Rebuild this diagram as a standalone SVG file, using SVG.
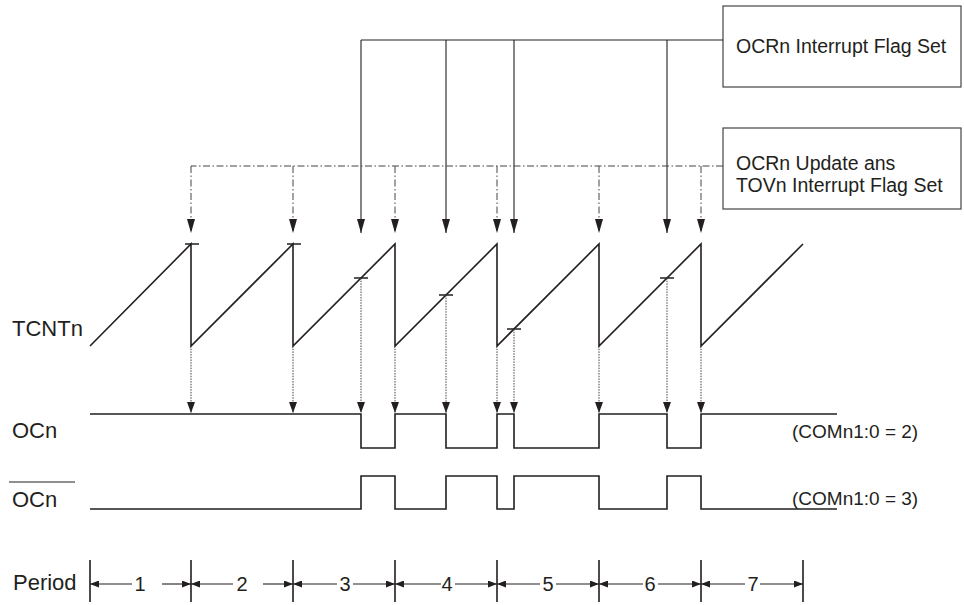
<svg xmlns="http://www.w3.org/2000/svg" width="964" height="605" viewBox="0 0 964 605">
<style>
text{font-family:"Liberation Sans",Arial,sans-serif;fill:#231f20}
.lbl{font-size:22px}
.box{font-size:19.5px}
.num{font-size:20px;text-anchor:middle}
.com{font-size:19px}
.wave{fill:none;stroke:#231f20;stroke-width:1.6;stroke-linejoin:miter}
.solid{fill:none;stroke:#231f20;stroke-width:1.1}
.dashdot{fill:none;stroke:#444;stroke-width:1;stroke-dasharray:7 2.5 1.5 2.5}
.dotted{fill:none;stroke:#444;stroke-width:1;stroke-dasharray:1.5 1.2}
.tick{fill:none;stroke:#231f20;stroke-width:1.6}
.boxr{fill:#fff;stroke:#444;stroke-width:1.2}
.per{fill:none;stroke:#231f20;stroke-width:1.1}
</style>
<defs>
<marker id="big" viewBox="0 0 14 8" markerWidth="14" markerHeight="8" refX="14" refY="4" orient="auto" markerUnits="userSpaceOnUse"><path d="M0,0 L14,4 L0,8 z" fill="#231f20"/></marker>
<marker id="sm" viewBox="0 0 11 8" markerWidth="11" markerHeight="8" refX="11" refY="4" orient="auto" markerUnits="userSpaceOnUse"><path d="M0,0 L11,4 L0,8 z" fill="#231f20"/></marker>
<marker id="pa" viewBox="0 0 9 7" markerWidth="9" markerHeight="7" refX="9" refY="3.5" orient="auto" markerUnits="userSpaceOnUse"><path d="M0,0 L9,3.5 L0,7 z" fill="#231f20"/></marker>
</defs>

<g id="box-ocr-flag">
<rect class="boxr" x="723" y="6" width="238" height="81"/>
<text class="box" x="736" y="53">OCRn Interrupt Flag Set</text>
</g>
<g id="box-tov-flag">
<rect class="boxr" x="723" y="128" width="238" height="81"/>
<text class="box" x="736" y="170">OCRn Update ans</text>
<text class="box" x="736" y="192">TOVn Interrupt Flag Set</text>
</g>

<g id="labels">
<text class="lbl" x="12" y="336">TCNTn</text>
<text class="lbl" x="12" y="438">OCn</text>
<line x1="9" y1="482" x2="75" y2="482" stroke="#231f20" stroke-width="1.2"/>
<text class="lbl" x="12" y="507">OCn</text>
<text class="lbl" x="13" y="590">Period</text>
<text class="com" x="792" y="438">(COMn1:0 = 2)</text>
<text class="com" x="792" y="505">(COMn1:0 = 3)</text>
</g>

<g id="tcnt">
<path class="wave" d="M90,346 L191,244 L191,346 L293,244 L293,346 L395,244 L395,346 L497,244 L497,346 L599,244 L599,346 L701,244 L701,346 L803,244"/>
<path class="tick" d="M185,244 H199 M287,244 H301 M354,278 H368 M439,295 H453 M507,329 H521 M660,278 H674"/>
</g>

<g id="ocn">
<path class="wave" d="M90,414 H361 V448 H395 V414 H446 V448 H497 V414 H514 V448 H599 V414 H667 V448 H701 V414 H837"/>
</g>
<g id="ocn-bar">
<path class="wave" d="M90,509 H361 V476 H395 V509 H446 V476 H497 V509 H514 V476 H599 V509 H667 V476 H701 V509 H837"/>
</g>

<g id="connectors">
<path class="solid" d="M361,40 H723"/>
<line class="solid" x1="361" y1="40" x2="361" y2="233" marker-end="url(#big)"/>
<line class="solid" x1="446" y1="40" x2="446" y2="233" marker-end="url(#big)"/>
<line class="solid" x1="514" y1="40" x2="514" y2="233" marker-end="url(#big)"/>
<line class="solid" x1="667" y1="40" x2="667" y2="233" marker-end="url(#big)"/>

<path class="dashdot" d="M723,166 H191"/>
<line class="dashdot" x1="191" y1="166" x2="191" y2="233" marker-end="url(#big)"/>
<line class="dashdot" x1="293" y1="166" x2="293" y2="233" marker-end="url(#big)"/>
<line class="dashdot" x1="395" y1="166" x2="395" y2="233" marker-end="url(#big)"/>
<line class="dashdot" x1="497" y1="166" x2="497" y2="233" marker-end="url(#big)"/>
<line class="dashdot" x1="599" y1="166" x2="599" y2="233" marker-end="url(#big)"/>
<line class="dashdot" x1="701" y1="166" x2="701" y2="233" marker-end="url(#big)"/>

<line class="dotted" x1="191" y1="346" x2="191" y2="413" marker-end="url(#sm)"/>
<line class="dotted" x1="293" y1="346" x2="293" y2="413" marker-end="url(#sm)"/>
<line class="dotted" x1="361" y1="278" x2="361" y2="413" marker-end="url(#sm)"/>
<line class="dotted" x1="395" y1="346" x2="395" y2="413" marker-end="url(#sm)"/>
<line class="dotted" x1="446" y1="295" x2="446" y2="413" marker-end="url(#sm)"/>
<line class="dotted" x1="497" y1="346" x2="497" y2="413" marker-end="url(#sm)"/>
<line class="dotted" x1="514" y1="329" x2="514" y2="413" marker-end="url(#sm)"/>
<line class="dotted" x1="599" y1="346" x2="599" y2="413" marker-end="url(#sm)"/>
<line class="dotted" x1="667" y1="278" x2="667" y2="413" marker-end="url(#sm)"/>
<line class="dotted" x1="701" y1="346" x2="701" y2="413" marker-end="url(#sm)"/>
</g>

<g id="period">
<path class="tick" d="M90,560 V602 M191,560 V602 M293,560 V602 M395,560 V602 M497,560 V602 M599,560 V602 M701,560 V602 M803,560 V602"/>
<line class="per" x1="132" y1="584" x2="90" y2="584" marker-end="url(#pa)"/>
<line class="per" x1="162" y1="584" x2="191" y2="584" marker-end="url(#pa)"/>
<line class="per" x1="233" y1="584" x2="191" y2="584" marker-end="url(#pa)"/>
<line class="per" x1="263" y1="584" x2="293" y2="584" marker-end="url(#pa)"/>
<line class="per" x1="337" y1="584" x2="293" y2="584" marker-end="url(#pa)"/>
<line class="per" x1="353" y1="584" x2="395" y2="584" marker-end="url(#pa)"/>
<line class="per" x1="441" y1="584" x2="395" y2="584" marker-end="url(#pa)"/>
<line class="per" x1="455" y1="584" x2="497" y2="584" marker-end="url(#pa)"/>
<line class="per" x1="540" y1="584" x2="497" y2="584" marker-end="url(#pa)"/>
<line class="per" x1="556" y1="584" x2="599" y2="584" marker-end="url(#pa)"/>
<line class="per" x1="643" y1="584" x2="599" y2="584" marker-end="url(#pa)"/>
<line class="per" x1="658" y1="584" x2="701" y2="584" marker-end="url(#pa)"/>
<line class="per" x1="745" y1="584" x2="701" y2="584" marker-end="url(#pa)"/>
<line class="per" x1="760" y1="584" x2="803" y2="584" marker-end="url(#pa)"/>
<text class="num" x="140" y="591">1</text>
<text class="num" x="242" y="591">2</text>
<text class="num" x="345" y="591">3</text>
<text class="num" x="447" y="591">4</text>
<text class="num" x="548" y="591">5</text>
<text class="num" x="650" y="591">6</text>
<text class="num" x="753" y="591">7</text>
</g>
</svg>
